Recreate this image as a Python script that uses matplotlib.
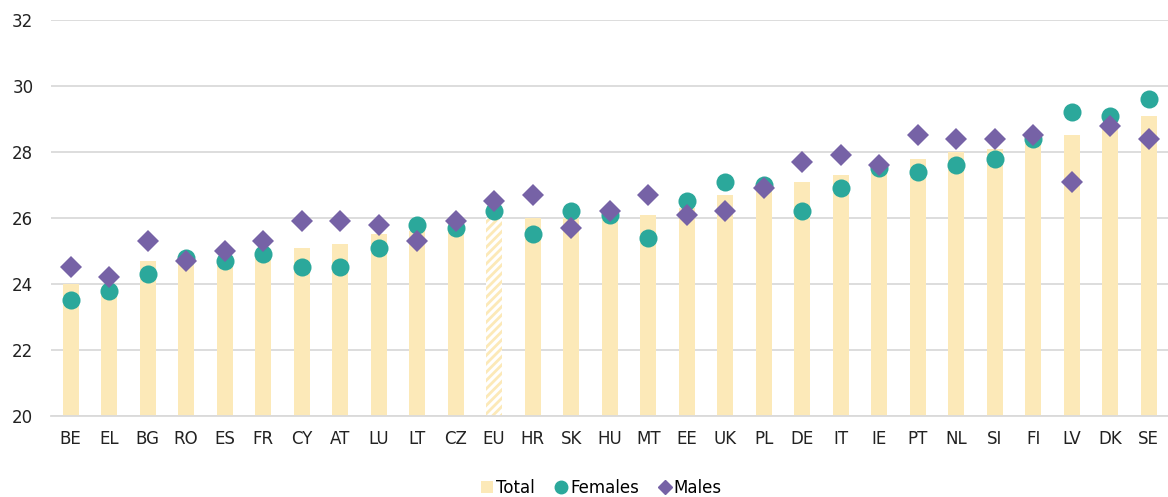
import matplotlib
matplotlib.use("Agg")
import matplotlib.pyplot as plt
from matplotlib.lines import Line2D
from matplotlib.patches import Patch
import numpy as np

plt.rcParams['font.family'] = ['DejaVu Sans']
plt.rcParams['hatch.linewidth'] = 2.0

# Data
countries = ['BE', 'EL', 'BG', 'RO', 'ES', 'FR', 'CY', 'AT', 'LU', 'LT', 'CZ', 'EU',
             'HR', 'SK', 'HU', 'MT', 'EE', 'UK', 'PL', 'DE', 'IT', 'IE', 'PT', 'NL',
             'SI', 'FI', 'LV', 'DK', 'SE']
total = [24.0, 23.9, 24.7, 24.8, 24.8, 24.9, 25.1, 25.2, 25.5, 25.6, 25.7, 26.0,
         26.0, 26.0, 26.1, 26.1, 26.3, 26.7, 26.9, 27.1, 27.3, 27.5, 27.8, 28.0,
         28.1, 28.4, 28.5, 28.8, 29.1]
females = [23.5, 23.8, 24.3, 24.8, 24.7, 24.9, 24.5, 24.5, 25.1, 25.8, 25.7, 26.2,
           25.5, 26.2, 26.1, 25.4, 26.5, 27.1, 27.0, 26.2, 26.9, 27.5, 27.4, 27.6,
           27.8, 28.4, 29.2, 29.1, 29.6]
males = [24.5, 24.2, 25.3, 24.7, 25.0, 25.3, 25.9, 25.9, 25.8, 25.3, 25.9, 26.5,
         26.7, 25.7, 26.2, 26.7, 26.1, 26.2, 26.9, 27.7, 27.9, 27.6, 28.5, 28.4,
         28.4, 28.5, 27.1, 28.8, 28.4]
yticks = [20, 22, 24, 26, 28, 30, 32]

bar_col = '#FCE9B8'
fem_col = '#2BA89B'
male_col = '#7662A6'
grid_col = '#DADADA'

fig = plt.figure(figsize=(11.68, 4.97), dpi=100)
ax = fig.add_axes([0.044, 0.163, 0.956, 0.797])

x = np.arange(len(countries))
bars = ax.bar(x, np.array(total) - 20, bottom=20, width=0.42, color=bar_col, linewidth=0, zorder=2)
eu = countries.index('EU')
bars[eu].set_facecolor('white')
bars[eu].set_edgecolor(bar_col)
bars[eu].set_hatch('////')

ax.plot(x, females, 'o', color=fem_col, markersize=13, markeredgewidth=0, zorder=3)
ax.plot(x, males, 'D', color=male_col, markersize=11, markeredgewidth=0, zorder=4)

ax.set_ylim(20, 32)
ax.set_xlim(-0.5, len(countries) - 0.5)
ax.set_yticks(yticks)
ax.set_xticks(x)
ax.set_xticklabels(countries)
ax.tick_params(axis='both', length=0, labelsize=12, colors='#222222')
ax.tick_params(axis='y', pad=13)
ax.tick_params(axis='x', pad=10)
ax.yaxis.grid(True, color=grid_col, linewidth=1.3, zorder=0)
ax.set_axisbelow(True)
for s in ['top', 'right', 'left']:
    ax.spines[s].set_visible(False)
ax.spines['bottom'].set_color(grid_col)
ax.spines['bottom'].set_linewidth(1.3)

handles = [Patch(facecolor=bar_col, edgecolor='none', label='Total'),
           Line2D([], [], marker='o', color=fem_col, linestyle='none', markersize=9, label='Females'),
           Line2D([], [], marker='D', color=male_col, linestyle='none', markersize=7, label='Males')]
fig.legend(handles=handles, loc='lower center', bbox_to_anchor=(0.515, -0.03), ncol=3, frameon=False,
           fontsize=12, handlelength=0.7, handletextpad=0.2, columnspacing=1.2)

fig.savefig('out.png', dpi=100)
